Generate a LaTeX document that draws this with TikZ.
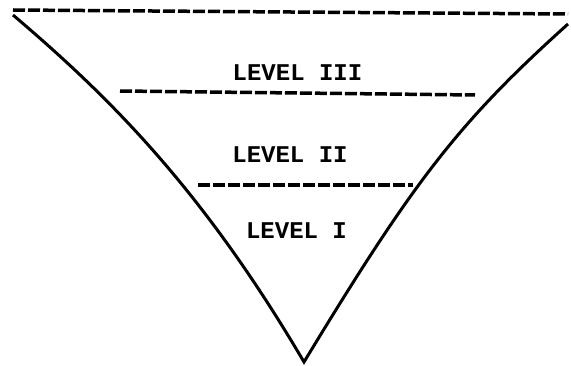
\documentclass[tikz,border=0pt]{standalone}
\usepackage{fontspec}
\setmonofont{Liberation Mono}
\begin{document}
\begin{tikzpicture}[x=1pt,y=-1pt,
  level/.style={font=\ttfamily\bfseries\fontsize{24}{26}\selectfont, inner sep=0pt, anchor=center},
  cut/.style={line width=3.5pt, dash pattern=on 12pt off 3pt},
  side/.style={line width=3pt}]
\useasboundingbox (0,0) rectangle (571,366);
% corner points
\coordinate (tl) at (13,15);
\coordinate (tr) at (568,24);
\coordinate (apex) at (304,362);
% top rim
\draw[cut] (13,10) -- (568,14);
% funnel sides
\draw[side, line join=miter] (tl) .. controls (113,100) and (204,192) .. (apex)
  .. controls (414,180.5) and (458,123) .. (tr);
% level separators
\draw[cut] (120,91) -- (475,95);
\draw[cut] (198,185) -- (413,185);
% labels
\node[level] (l3) at (297.5,73) {LEVEL III};
\node[level] (l2) at (290,155) {LEVEL II};
\node[level] (l1) at (296.5,231) {LEVEL I};
\end{tikzpicture}
\end{document}
